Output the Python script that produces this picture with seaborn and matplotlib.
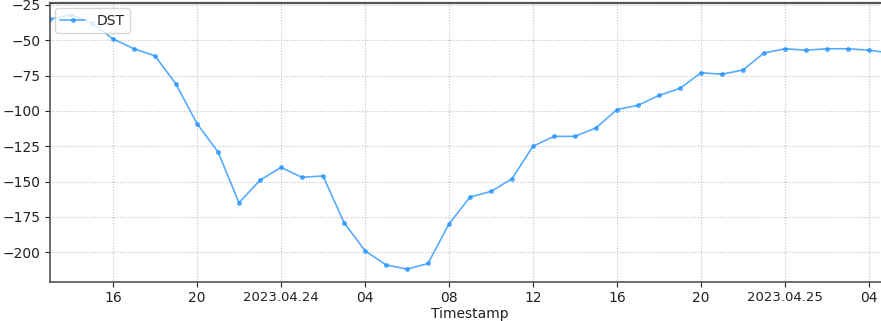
import numpy as np
import pandas as pd
import matplotlib
matplotlib.use("Agg")
import matplotlib.pyplot as plt
import matplotlib.dates as mdates
import seaborn as sns

# Hourly Dst index, 2023-04-23 13:00 through 2023-04-25 05:00
start_time = "2023-04-23 13:00"
dst_values = [
    -35, -32, -38, -49, -56, -61, -81, -109, -129, -165, -149,          # 23rd 13h-23h
    -140, -147, -146, -179, -199, -209, -212, -208, -180, -161, -157, -148,  # 24th 00h-11h
    -125, -118, -118, -112, -99, -96, -89, -84, -73, -74, -71, -59,     # 24th 12h-23h
    -56, -57, -56, -56, -57, -59,                                       # 25th 00h-05h
]
series_name = "DST"
x_label = "Timestamp"

timestamps = pd.date_range(start_time, periods=len(dst_values), freq="h")
df = pd.DataFrame({"Timestamp": timestamps, series_name: dst_values})

sns.set_style("white")
plt.rcParams["font.family"] = ["DejaVu Sans"]

fig = plt.figure(figsize=(8.81, 3.21), dpi=100)
ax = fig.add_axes([50 / 881, 39.3 / 321, 840 / 881, 278.4 / 321])

sns.lineplot(data=df, x="Timestamp", y=series_name, ax=ax, label=series_name,
             color="dodgerblue", alpha=0.75, linewidth=1.2,
             marker="o", markersize=3.5, markeredgewidth=0)

ax.set_xlim(timestamps[0], timestamps[-1])
ax.set_ylim(-220.9, -23.8)
ax.set_yticks([-200, -175, -150, -125, -100, -75, -50, -25])


def hour_fmt(x, pos=None):
    t = mdates.num2date(x)
    return t.strftime("%Y.%m.%d") if t.hour == 0 else t.strftime("%H")


ax.xaxis.set_major_locator(mdates.HourLocator(byhour=[0, 4, 8, 12, 16, 20]))
ax.xaxis.set_major_formatter(plt.FuncFormatter(hour_fmt))

ax.grid(True, linestyle=(0, (1, 1.5)), color="#c4c4c4", linewidth=0.8)
ax.tick_params(axis="both", labelsize=10, colors="#222222", length=3.5, width=0.8,
               left=True, bottom=True)
for lbl in ax.get_xticklabels():
    if "." in lbl.get_text():
        lbl.set_fontsize(9.5)

for side in ("left", "bottom", "top", "right"):
    ax.spines[side].set_visible(True)
    ax.spines[side].set_color("#555555")
    ax.spines[side].set_linewidth(1.2)
ax.spines["top"].set_linewidth(1.6)

ax.set_xlabel(x_label, fontsize=10, color="#222222", labelpad=1)
ax.set_ylabel("")

leg = ax.legend(loc="upper left", fontsize=10, framealpha=0.8,
                borderpad=0.4, handlelength=1.8, borderaxespad=0.35)

fig.savefig("out.png", dpi=100)
